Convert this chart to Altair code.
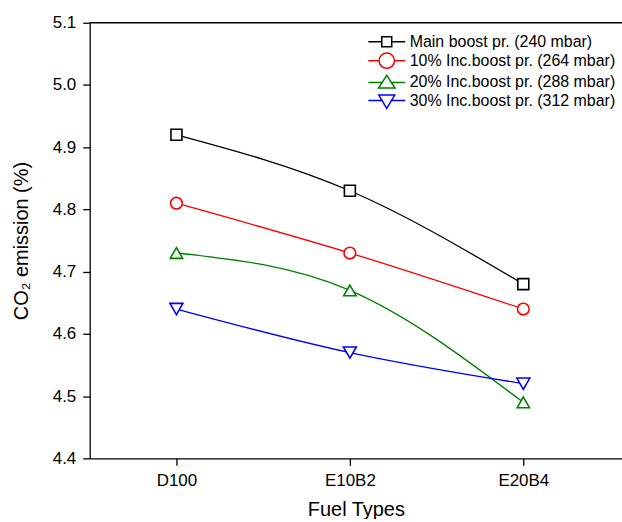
import altair as alt
import pandas as pd

categories = ["D100", "E10B2", "E20B4"]
series = [
    "Main boost pr. (240 mbar)",
    "10% Inc.boost pr. (264 mbar)",
    "20% Inc.boost pr. (288 mbar)",
    "30% Inc.boost pr. (312 mbar)",
]
main_vals = [4.92, 4.83, 4.68]
inc10_vals = [4.81, 4.73, 4.64]
inc20_vals = [4.73, 4.67, 4.49]
inc30_vals = [4.64, 4.57, 4.52]
y_ticks = [4.4, 4.5, 4.6, 4.7, 4.8, 4.9, 5.0, 5.1]
y_top = 5.1

colors = ["#000000", "#ff0000", "#008000", "#0000ff"]
shapes = ["square", "circle", "triangle-up", "triangle-down"]
marker_sizes = [121, 169, 270, 270]

legend_paths = [
    "M-3.7,0 L-1,0 M1,0 L3.7,0 M-1,-1 L1,-1 L1,1 L-1,1 Z",
    "M-3.7,0 L-1.55,0 M1.55,0 L3.7,0 M-1.55,0 A1.55,1.55 0 1,0 1.55,0 A1.55,1.55 0 1,0 -1.55,0 Z",
    "M-3.7,0.2 L-0.75,0.2 M0.75,0.2 L3.7,0.2 M0,-1.25 L1.65,1.3 L-1.65,1.3 Z",
    "M-3.7,-0.2 L-0.75,-0.2 M0.75,-0.2 L3.7,-0.2 M0,1.4 L1.6,-1.3 L-1.6,-1.3 Z",
]

rows = []
for name, vals in zip(series, [main_vals, inc10_vals, inc20_vals, inc30_vals]):
    for i, (cat, v) in enumerate(zip(categories, vals)):
        rows.append({"series": name, "fuel": cat, "pos": i + 1, "value": v})
df = pd.DataFrame(rows)

label_expr = " : ".join(
    [f"datum.value == {i + 1} ? '{c}'" for i, c in enumerate(categories)] + ["''"]
)

x_enc = alt.X(
    "pos:Q",
    scale=alt.Scale(domain=[0.5, 3.569], nice=False, zero=False),
    axis=alt.Axis(title="Fuel Types", values=[1, 2, 3], labelExpr=label_expr),
)
y_enc = alt.Y(
    "value:Q",
    scale=alt.Scale(domain=[4.4, 5.1], nice=False, zero=False),
    axis=alt.Axis(title="CO₂ emission (%)", values=y_ticks, format=".1f"),
)

base = alt.Chart(df)

top_rule = alt.Chart(pd.DataFrame({"top": [y_top]})).mark_rule(
    color="#000000", strokeWidth=1.3
).encode(y=alt.Y("top:Q"))

lines = base.mark_line(interpolate="natural", strokeWidth=1.3).encode(
    x=x_enc,
    y=y_enc,
    color=alt.Color("series:N", scale=alt.Scale(domain=series, range=colors), legend=None),
    detail="series:N",
)

points = base.mark_point(strokeWidth=1.6, opacity=1).encode(
    x=x_enc,
    y=y_enc,
    stroke=alt.Stroke("series:N", scale=alt.Scale(domain=series, range=colors), legend=None),
    shape=alt.Shape("series:N", scale=alt.Scale(domain=series, range=shapes), legend=None),
    size=alt.Size("series:N", scale=alt.Scale(domain=series, range=marker_sizes), legend=None),
    fill=alt.value("white"),
)

legend_layer = base.mark_point(strokeWidth=1.5, opacity=1).encode(
    x=x_enc,
    y=y_enc,
    stroke=alt.Stroke(
        "series:N",
        scale=alt.Scale(domain=series, range=colors),
        legend=alt.Legend(title=None),
    ),
    shape=alt.Shape(
        "series:N",
        scale=alt.Scale(domain=series, range=legend_paths),
        legend=alt.Legend(title=None),
    ),
    fill=alt.value("white"),
).transform_filter("false")

chart = (
    alt.layer(lines, points, legend_layer, top_rule)
    .resolve_scale(stroke="independent", shape="independent")
    .properties(
        width=534,
        height=437,
        padding={"left": 90, "top": 22, "right": 0, "bottom": 60},
        autosize=alt.AutoSizeParams(type="none"),
    )
    .configure_view(stroke=None)
    .configure_axis(
        grid=False,
        domainColor="#000000",
        domainWidth=1.3,
        tickColor="#000000",
        tickWidth=1.3,
        tickSize=7,
        labelFont="Liberation Sans",
        labelFontSize=17,
        labelColor="#000000",
        titleFont="Liberation Sans",
        titleFontSize=20,
        titleFontWeight="normal",
        titleColor="#000000",
    )
    .configure_axisY(labelPadding=7, titlePadding=21)
    .configure_axisX(labelPadding=7, titlePadding=11)
    .configure_legend(
        orient="none",
        legendX=290,
        legendY=11,
        symbolSize=100,
        symbolStrokeWidth=1.5,
        labelFont="Liberation Sans",
        labelFontSize=16,
        labelColor="#000000",
        labelLimit=330,
        labelOffset=15,
        rowPadding=0,
        padding=0,
    )
)

chart.save("out.html", embed_options={"renderer": "svg", "actions": False})
